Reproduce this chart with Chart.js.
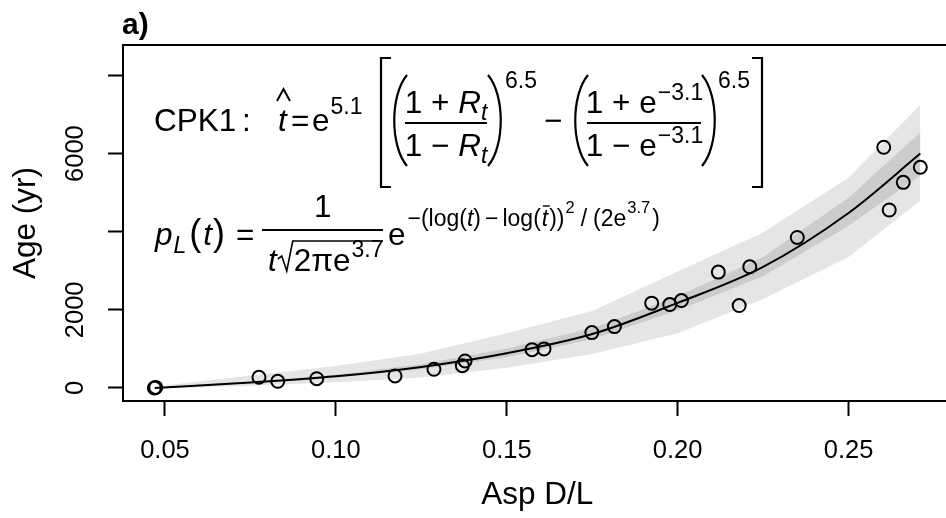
<!DOCTYPE html>
<html>
<head>
<meta charset="utf-8">
<script src="https://cdn.jsdelivr.net/npm/chart.js@4.4.1/dist/chart.umd.min.js"></script>
<style>
  html, body { margin: 0; padding: 0; background: #fff; overflow: hidden; }
</style>
</head>
<body>
<canvas id="chart" width="960" height="518"></canvas>
<script>
const FONT = '"Liberation Sans", Arial, Helvetica, sans-serif';

// dated samples
const aspDL = [0.0469, 0.0473, 0.0775, 0.083, 0.0944, 0.1173, 0.1287, 0.137, 0.1378, 0.1574, 0.1609,
  0.1749, 0.1815, 0.1924, 0.1977, 0.2011, 0.2119, 0.218, 0.2211, 0.235, 0.2603, 0.2619, 0.266, 0.271];
const ageYr = [0, 15, 274, 172, 238, 308, 479, 572, 692, 982, 1000,
  1418, 1572, 2172, 2136, 2238, 2967, 2110, 3103, 3854, 6162, 4556, 5264, 5649];

// fitted curve and its two bands
const fitX = [0.047, 0.075, 0.1, 0.125, 0.15, 0.175, 0.2, 0.225, 0.25, 0.271];
const fitAge = [0, 140, 300, 540, 890, 1380, 2180, 3100, 4480, 6000];
const outerHi = [30, 320, 560, 880, 1400, 1970, 2980, 3980, 5380, 7250];
const outerLo = [-10, 60, 150, 270, 520, 870, 1400, 2280, 3350, 4800];
const innerHi = [5, 165, 340, 610, 1010, 1530, 2350, 3350, 4870, 6540];
const innerLo = [0, 120, 265, 480, 790, 1250, 1990, 2860, 4150, 5440];

const xTicks = [0.05, 0.10, 0.15, 0.20, 0.25];
const yTicks = [0, 2000, 4000, 6000, 8000];
const yTickLabels = ['0', '2000', '', '6000', ''];

const pts = (xs, ys) => xs.map((x, i) => ({ x: x, y: ys[i] }));

function put(ctx, s, x, y, size, style) {
  ctx.font = (style ? style + ' ' : '') + size + 'px ' + FONT;
  ctx.fillText(s, x, y);
  return x + ctx.measureText(s).width;
}
function width(ctx, s, size, style) {
  ctx.font = (style ? style + ' ' : '') + size + 'px ' + FONT;
  return ctx.measureText(s).width;
}
function seg(ctx, pts, lw) {
  ctx.beginPath();
  ctx.lineWidth = lw || 2;
  ctx.moveTo(pts[0][0], pts[0][1]);
  for (let i = 1; i < pts.length; i++) ctx.lineTo(pts[i][0], pts[i][1]);
  ctx.stroke();
}
// tall parenthesis, x0 = end points, dir -1 bulges left, +1 bulges right
function paren(ctx, x0, top, bot, dir) {
  const h = bot - top;
  ctx.beginPath();
  ctx.lineWidth = 2.2;
  ctx.moveTo(x0, top);
  ctx.bezierCurveTo(x0 + dir * 17, top + h * 0.22, x0 + dir * 17, bot - h * 0.22, x0, bot);
  ctx.stroke();
}

function drawFormulas(ctx) {
  const M = 31.5, S = 23, SS = 16.5;
  ctx.fillStyle = '#000';
  ctx.strokeStyle = '#000';
  ctx.textAlign = 'left';
  ctx.textBaseline = 'alphabetic';

  // line 1
  put(ctx, 'CPK1', 154, 131, M);
  put(ctx, ':', 242, 131, M);
  put(ctx, 't', 278, 131, M, 'italic');
  seg(ctx, [[277, 101], [283.5, 89], [290, 101]], 2);
  put(ctx, '=', 291, 131, M);
  let x = put(ctx, 'e', 312, 131, M);
  put(ctx, '5.1', x + 1, 114, S);

  seg(ctx, [[391, 58], [381, 58], [381, 187], [391, 187]], 2.2);

  // first fraction
  paren(ctx, 407, 75, 166, -1);
  const n1 = width(ctx, '1 + ', M) + width(ctx, 'R', M, 'italic') + width(ctx, 't', S, 'italic');
  let cx = 446;
  x = put(ctx, '1 + ', cx - n1 / 2, 113, M);
  x = put(ctx, 'R', x, 113, M, 'italic');
  put(ctx, 't', x, 120, S, 'italic');
  const d1 = width(ctx, '1 \u2212 ', M) + width(ctx, 'R', M, 'italic') + width(ctx, 't', S, 'italic');
  x = put(ctx, '1 \u2212 ', cx - d1 / 2, 156, M);
  x = put(ctx, 'R', x, 156, M, 'italic');
  put(ctx, 't', x, 163, S, 'italic');
  seg(ctx, [[405, 123], [487, 123]], 2);
  paren(ctx, 488, 75, 166, 1);
  put(ctx, '6.5', 505, 88, S);

  put(ctx, '\u2212', 544, 131, M);

  // second fraction
  paren(ctx, 588, 75, 166, -1);
  cx = 644;
  const n2 = width(ctx, '1 + e', M) + width(ctx, '\u22123.1', S);
  x = put(ctx, '1 + e', cx - n2 / 2, 113, M);
  put(ctx, '\u22123.1', x + 1, 100, S);
  const d2 = width(ctx, '1 \u2212 e', M) + width(ctx, '\u22123.1', S);
  x = put(ctx, '1 \u2212 e', cx - d2 / 2, 156, M);
  put(ctx, '\u22123.1', x + 1, 143, S);
  seg(ctx, [[587, 123], [701, 123]], 2);
  paren(ctx, 702, 75, 166, 1);
  put(ctx, '6.5', 718, 88, S);

  seg(ctx, [[752, 58], [762, 58], [762, 187], [752, 187]], 2.2);

  // line 2
  x = put(ctx, 'p', 155, 245, M, 'italic');
  x = put(ctx, 'L', x + 1, 253, S, 'italic');
  x = put(ctx, '(', x + 3, 245, 36);
  x = put(ctx, 't', x + 2, 245, M, 'italic');
  x = put(ctx, ')', x + 1, 245, 36);
  put(ctx, '=', 236, 245, M);
  seg(ctx, [[262, 230], [383, 230]], 2);
  put(ctx, '1', 314, 217, M);
  x = put(ctx, 't', 268, 271, M, 'italic');
  seg(ctx, [[x + 1, 259], [x + 5, 256], [x + 10, 271], [x + 16, 241], [383, 241]], 1.6);
  x = put(ctx, '2\u03c0e', x + 17, 271, M);
  put(ctx, '3.7', x + 1, 257, S);

  x = put(ctx, 'e', 388, 245, M);
  let sx = x + 2;
  const sb = 226;
  sx = put(ctx, '\u2212(log(', sx, sb, S);
  sx = put(ctx, 't', sx, sb, S, 'italic');
  sx = put(ctx, ')', sx, sb, S);
  sx = put(ctx, '\u2212', sx + 4, sb, S);
  sx = put(ctx, 'log(', sx + 4, sb, S);
  const tb = sx;
  sx = put(ctx, 't', sx + 1, sb, S, 'italic');
  seg(ctx, [[tb + 2, 206], [tb + 9, 206]], 1.4);
  sx = put(ctx, '))', sx + 1, sb, S);
  sx = put(ctx, '2', sx + 1, 213, SS);
  sx = put(ctx, '/', sx + 6, sb, S);
  sx = put(ctx, '(2e', sx + 6, sb, S);
  sx = put(ctx, '3.7', sx + 1, 213, SS);
  put(ctx, ')', sx + 2, sb, S);
}

const decor = {
  id: 'decor',
  afterDraw(chart) {
    const ctx = chart.ctx;
    const a = chart.chartArea;
    const ys = chart.scales.y;
    ctx.save();
    ctx.strokeStyle = '#000';
    ctx.lineWidth = 2;
    ctx.beginPath();
    ctx.moveTo(a.left - 1, a.top);
    ctx.lineTo(a.right, a.top);
    ctx.lineTo(a.right, a.bottom);
    ctx.stroke();

    ctx.fillStyle = '#000';
    ctx.font = '25.5px ' + FONT;
    ctx.textAlign = 'center';
    ctx.textBaseline = 'alphabetic';
    yTicks.forEach((v, i) => {
      if (!yTickLabels[i]) return;
      ctx.save();
      ctx.translate(83, ys.getPixelForValue(v));
      ctx.rotate(-Math.PI / 2);
      ctx.fillText(yTickLabels[i], 0, 0);
      ctx.restore();
    });

    ctx.textAlign = 'left';
    ctx.font = 'bold 30px ' + FONT;
    ctx.fillText('a)', 122, 34);

    drawFormulas(ctx);
    ctx.restore();
  }
};

new Chart(document.getElementById('chart'), {
  type: 'scatter',
  data: {
    datasets: [
      { data: pts(fitX, outerHi), showLine: true, fill: '+1', backgroundColor: '#e5e5e5',
        borderWidth: 0, pointRadius: 0, tension: 0, order: 3 },
      { data: pts(fitX, outerLo), showLine: true, fill: false,
        borderWidth: 0, pointRadius: 0, tension: 0, order: 3 },
      { data: pts(fitX, innerHi), showLine: true, fill: '+1', backgroundColor: '#cccccc',
        borderWidth: 0, pointRadius: 0, tension: 0, order: 2 },
      { data: pts(fitX, innerLo), showLine: true, fill: false,
        borderWidth: 0, pointRadius: 0, tension: 0, order: 2 },
      { data: pts(fitX, fitAge), showLine: true, fill: false, borderColor: '#000', borderWidth: 2,
        pointRadius: 0, cubicInterpolationMode: 'monotone', order: 1 },
      { data: pts(aspDL, ageYr), showLine: false, pointStyle: 'circle', pointRadius: 6.5,
        pointBorderWidth: 2, pointBorderColor: '#000', pointBackgroundColor: 'rgba(0,0,0,0)', order: 0 }
    ]
  },
  options: {
    responsive: false,
    animation: false,
    layout: { padding: { top: 45, right: 8, bottom: 0, left: 0 } },
    plugins: { legend: { display: false }, tooltip: { enabled: false } },
    scales: {
      x: {
        type: 'linear',
        min: 0.03772,
        max: 0.28012,
        afterBuildTicks: s => { s.ticks = xTicks.map(v => ({ value: v })); },
        afterFit: s => { s.height = 117; },
        grid: { drawOnChartArea: false, drawTicks: true, tickLength: 15, tickWidth: 2, tickColor: '#000' },
        border: { display: true, color: '#000', width: 2 },
        ticks: {
          color: '#000', font: { family: FONT, size: 25.5 }, padding: 20,
          autoSkip: false, maxRotation: 0,
          callback: v => v.toFixed(2)
        },
        title: { display: true, text: 'Asp D/L', color: '#000', font: { family: FONT, size: 31.5 },
          padding: { top: 0, bottom: 4 } }
      },
      y: {
        type: 'linear',
        min: -333,
        max: 8780,
        afterBuildTicks: s => { s.ticks = yTicks.map(v => ({ value: v })); },
        afterFit: s => { s.width = 123; },
        grid: { drawOnChartArea: false, drawTicks: true, tickLength: 15, tickWidth: 2, tickColor: '#000' },
        border: { display: true, color: '#000', width: 2 },
        ticks: { display: false },
        title: { display: true, text: 'Age (yr)', color: '#000', font: { family: FONT, size: 31.5 },
          padding: { top: 7, bottom: 0 } }
      }
    }
  },
  plugins: [decor]
});
</script>
</body>
</html>
